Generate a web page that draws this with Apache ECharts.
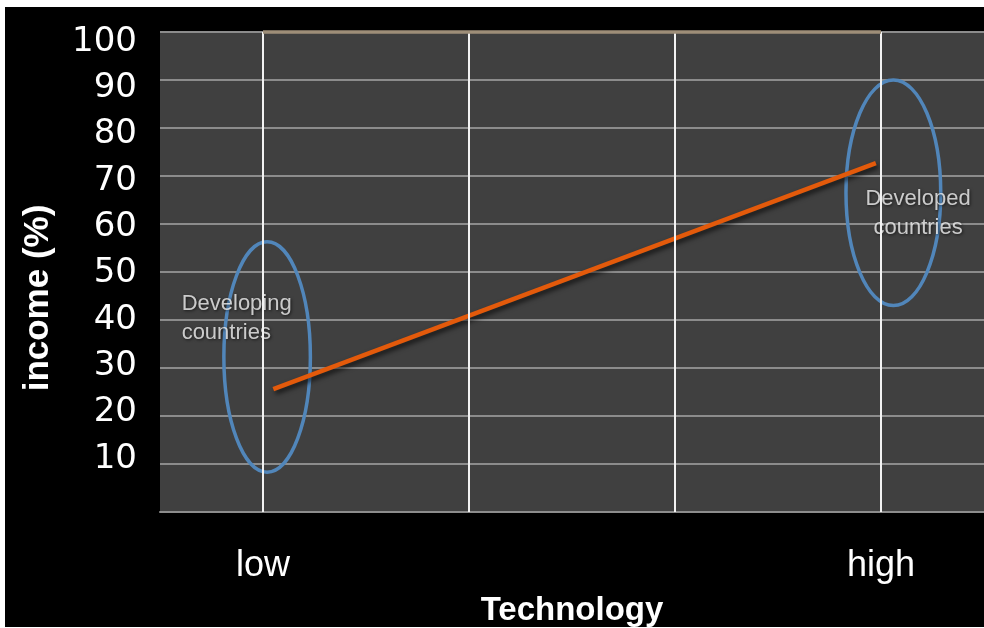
<!DOCTYPE html>
<html><head><meta charset="utf-8">
<script src="https://cdn.jsdelivr.net/npm/echarts@6/dist/echarts.min.js"></script>
<style>
html,body{margin:0;padding:0;background:#fff;width:984px;height:628px;overflow:hidden}
#c{position:absolute;left:5px;top:7px;width:979px;height:620px;}
</style>
</head><body><div id="c"></div>
<script>
// ---- data ----
const techLabels = ['low', '', '', 'high'];          // technology levels at x = 0..3
const techPositions = [0, 1, 2, 3];
const labelPositions = [0, 3];
const yTickValues = [10, 20, 30, 40, 50, 60, 70, 80, 90, 100];
const trendTech = [0.05, 2.975];
const trendIncome = [25.6, 72.7];
const groupNames = ['Developing\ncountries', 'Developed\ncountries'];
const groupTech = [0.02, 3.06];
const groupIncome = [32.3, 66.5];
const groupTechSpread = [0.21, 0.23];
const groupIncomeSpread = [24, 23.5];
const groupLabelTech = [-0.395, 3.18];
const groupLabelIncome = [40.4, 62.1];
const xAxisTitle = 'Technology';
const yAxisTitle = 'income (%)';

// ---- chart ----
const chart = echarts.init(document.getElementById('c'));
const labelAligns = ['left', 'center'];

const option = {
  backgroundColor: '#000000',
  animation: false,
  grid: { left: 155, right: 0, top: 25, bottom: 115, show: true, backgroundColor: '#404040', borderWidth: 0,
          containLabel: false, outerBoundsMode: 'none' },
  xAxis: {
    type: 'value', min: -0.5, max: 3.5,
    axisLine: { show: true, lineStyle: { color: '#8c8c8c', width: 2 } },
    axisTick: { show: false },
    splitLine: { show: false },
    axisLabel: {
      customValues: labelPositions,
      formatter: v => techLabels[Math.round(v)] || '',
      color: '#ffffff', fontSize: 36, fontFamily: 'Liberation Sans', margin: 36
    },
    name: xAxisTitle, nameLocation: 'middle', nameGap: 82,
    nameTextStyle: { color: '#ffffff', fontSize: 33, fontWeight: 'bold', fontFamily: 'Liberation Sans' }
  },
  yAxis: [
    {
      type: 'value', min: 0, max: 100, interval: 10,
      axisLine: { show: false }, axisTick: { show: false },
      axisLabel: { show: false },
      splitLine: { show: true, lineStyle: { color: '#8c8c8c', width: 2 } }
    },
    {
      // label-only axis: the reference's tick labels sit on a slightly tighter spacing than its gridlines
      type: 'value', position: 'left', min: -1.44, max: 102.16,
      axisLine: { show: false }, axisTick: { show: false }, splitLine: { show: false },
      axisLabel: {
        customValues: yTickValues,
        formatter: v => String(v),
        color: '#ffffff', fontSize: 34, fontFamily: 'DejaVu Sans', margin: 23
      }
    }
  ],
  graphic: [{
    type: 'text', x: 33, y: 291, rotation: Math.PI / 2,
    style: { text: yAxisTitle, fill: '#ffffff', font: 'bold 35px "Liberation Sans"', align: 'center', verticalAlign: 'middle' }
  }],
  series: [
    {
      type: 'line', data: [], silent: true,
      markLine: {
        silent: true, symbol: 'none', label: { show: false },
        lineStyle: { color: '#f2f2f2', width: 2, type: 'solid' },
        data: techPositions.map(p => ({ xAxis: p }))
      }
    },
    {
      type: 'line', data: [], silent: true,
      markLine: {
        silent: true, symbol: 'none', label: { show: false },
        lineStyle: { color: '#9e8e78', width: 3.5, type: 'solid' },
        data: [[{ coord: [techPositions[0], 100] }, { coord: [techPositions[3], 100] }]]
      }
    },
    {
      type: 'custom', silent: true,
      data: groupTech.map((t, i) => [t, groupIncome[i], groupTechSpread[i], groupIncomeSpread[i]]),
      renderItem: (params, api) => {
        const c = api.coord([api.value(0), api.value(1)]);
        const s = api.size([api.value(2), api.value(3)]);
        return { type: 'ellipse', shape: { cx: c[0], cy: c[1], rx: s[0], ry: s[1] },
          style: { fill: 'none', stroke: '#5186ba', lineWidth: 3.5 } };
      }
    },
    {
      type: 'line', silent: true, symbol: 'none',
      data: trendTech.map((t, i) => [t, trendIncome[i]]),
      lineStyle: { color: '#e35a0b', width: 4.5, shadowBlur: 5, shadowColor: 'rgba(0,0,0,0.7)', shadowOffsetX: 2, shadowOffsetY: 3 }
    },
    {
      type: 'scatter', silent: true, symbolSize: 0,
      data: groupNames.map((n, i) => ({ name: n, value: [groupLabelTech[i], groupLabelIncome[i]],
        label: { align: labelAligns[i] } })),
      label: {
        show: true, position: 'inside', formatter: p => p.name,
        color: '#f2f2f2', fontSize: 22, lineHeight: 29, fontFamily: 'Liberation Sans',
        textShadowColor: 'rgba(0,0,0,0.8)', textShadowBlur: 3, textShadowOffsetX: 1, textShadowOffsetY: 1
      }
    }
  ]
};
chart.setOption(option);
</script>
</body></html>
